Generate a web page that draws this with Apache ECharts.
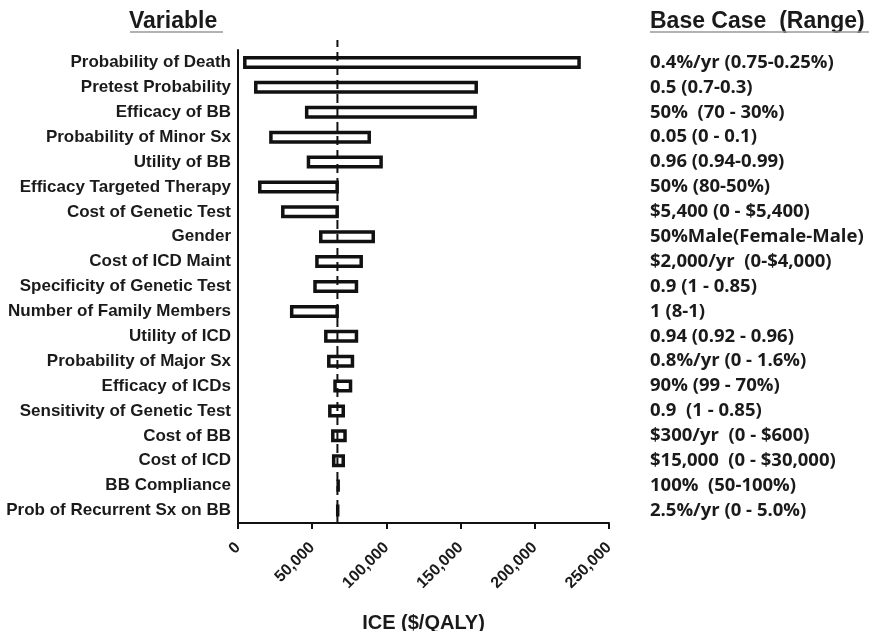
<!DOCTYPE html>
<html>
<head>
<meta charset="utf-8">
<script src="https://cdn.jsdelivr.net/npm/echarts@6/dist/echarts.min.js"></script>
<style>html,body{margin:0;padding:0;background:#fff}#c{width:871px;height:631px}</style>
</head>
<body>
<div id="c"></div>
<script>
const variables = [
  'Probability of Death','Pretest Probability','Efficacy of BB','Probability of Minor Sx',
  'Utility of BB','Efficacy Targeted Therapy','Cost of Genetic Test','Gender',
  'Cost of ICD Maint','Specificity of Genetic Test','Number of Family Members','Utility of ICD',
  'Probability of Major Sx','Efficacy of ICDs','Sensitivity of Genetic Test','Cost of BB',
  'Cost of ICD','BB Compliance','Prob of Recurrent Sx on BB'
];
const baseCaseRange = [
  '0.4%/yr (0.75-0.25%)','0.5 (0.7-0.3)','50%  (70 - 30%)','0.05 (0 - 0.1)',
  '0.96 (0.94-0.99)','50% (80-50%)','$5,400 (0 - $5,400)','50%Male(Female-Male)',
  '$2,000/yr  (0-$4,000)','0.9 (1 - 0.85)','1 (8-1)','0.94 (0.92 - 0.96)',
  '0.8%/yr (0 - 1.6%)','90% (99 - 70%)','0.9  (1 - 0.85)','$300/yr  (0 - $600)',
  '$15,000  (0 - $30,000)','100%  (50-100%)','2.5%/yr (0 - 5.0%)'
];
const iceLow = [
  3400, 10800, 45100, 21000, 46300, 13500, 29000, 54600, 52000, 50700, 35000, 58000,
  60000, 64200, 60700, 62700, 63300, 67200, 66900
];
const iceHigh = [
  231000, 161700, 161000, 89600, 97600, 68000, 68000, 92300, 84200, 81000, 68000, 81000,
  78300, 77000, 72100, 73300, 72100, 67800, 67500
];
const baseICE = 67000;
const xTicks = [0, 50000, 100000, 150000, 200000, 250000];

const chart = echarts.init(document.getElementById('c'), null, {renderer: 'canvas'});
const fmt = v => v.toLocaleString('en-US');
const TXT = '#1a1a1a';
const option = {
  backgroundColor: '#fff',
  animation: false,
  grid: [
    {left: 238, right: 262, top: 50, bottom: 108, containLabel: false, outerBoundsMode: 'none'},
    {left: 238, right: 262, top: 40, bottom: 108, containLabel: false, outerBoundsMode: 'none'}
  ],
  xAxis: [
    {
      type: 'value', gridIndex: 0, min: xTicks[0], max: xTicks[xTicks.length - 1], interval: 50000,
      axisLine: {show: true, lineStyle: {color: '#111', width: 2}},
      axisTick: {show: true, length: 6, lineStyle: {color: '#111', width: 2}},
      splitLine: {show: false},
      axisLabel: {rotate: 45, margin: 22, color: TXT, fontFamily: 'Liberation Sans, Arial', fontWeight: 'bold', fontSize: 16, formatter: fmt},
      name: 'ICE ($/QALY)', nameLocation: 'middle', nameGap: 90,
      nameTextStyle: {color: TXT, fontFamily: 'Liberation Sans, Arial', fontWeight: 'bold', fontSize: 20}
    },
    {
      type: 'value', gridIndex: 1, min: xTicks[0], max: xTicks[xTicks.length - 1], show: false
    }
  ],
  yAxis: [
    {
      type: 'category', gridIndex: 0, data: variables, inverse: true, position: 'left',
      axisLine: {show: true, lineStyle: {color: '#111', width: 2}},
      axisTick: {show: false},
      axisLabel: {margin: 7, color: TXT, fontFamily: 'Liberation Sans, Arial', fontWeight: 'bold', fontSize: 17, interval: 0}
    },
    {
      type: 'category', gridIndex: 0, data: baseCaseRange, inverse: true, position: 'right',
      axisLine: {show: false}, axisTick: {show: false},
      axisLabel: {margin: 41, align: 'left', color: TXT, fontFamily: 'Open Sans', fontWeight: 'bold', fontSize: 18.5, interval: 0}
    },
    {type: 'value', gridIndex: 1, min: 0, max: 1, show: false}
  ],
  series: [
    {
      type: 'bar', xAxisIndex: 0, yAxisIndex: 0, stack: 'r', data: iceLow,
      itemStyle: {color: 'transparent'}, barWidth: 13, silent: true
    },
    {
      type: 'bar', xAxisIndex: 0, yAxisIndex: 0, stack: 'r',
      data: iceHigh.map((h, i) => h - iceLow[i]),
      barWidth: 13,
      itemStyle: {color: '#fff', borderColor: '#111', borderWidth: 3.5}
    },
    {
      type: 'line', xAxisIndex: 1, yAxisIndex: 2, symbol: 'none',
      data: [[baseICE, 0], [baseICE, 1]],
      lineStyle: {color: '#111', width: 2, type: [9, 5]}, z: 5
    }
  ],
  graphic: [
    {type: 'text', left: 129, top: 10, style: {text: 'Variable', fill: TXT, font: 'bold 23px "Liberation Sans", Arial'}},
    {type: 'line', shape: {x1: 130, y1: 32, x2: 223, y2: 32}, style: {stroke: '#999', lineWidth: 1.5}},
    {type: 'text', left: 650, top: 10, style: {text: 'Base Case  (Range)', fill: TXT, font: 'bold 23px "Liberation Sans", Arial'}},
    {type: 'line', shape: {x1: 650, y1: 32, x2: 869, y2: 32}, style: {stroke: '#999', lineWidth: 1.5}}
  ]
};
chart.setOption(option);
</script>
</body>
</html>
